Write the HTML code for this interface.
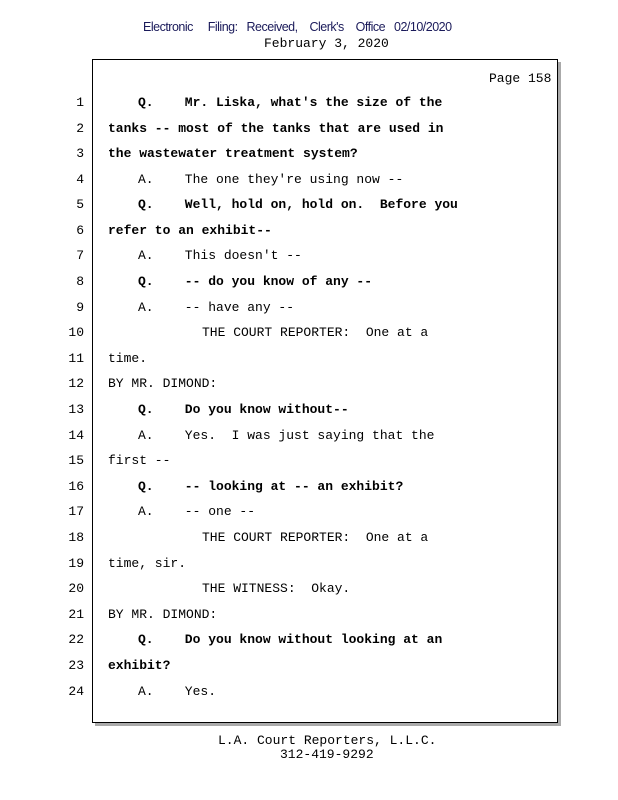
<!DOCTYPE html>
<html><head><meta charset="utf-8"><style>
body{margin:0;width:618px;height:800px;background:#fff;position:relative;overflow:hidden;font-family:"Liberation Mono",monospace;font-size:13px;color:#000}
.a{position:absolute;white-space:pre;line-height:15px}
.n{position:absolute;width:30px;left:54px;text-align:right;white-space:pre;line-height:15px}
.b{font-weight:bold}
#box{position:absolute;left:92px;top:59px;width:464px;height:662px;border:1px solid #000;box-shadow:3px 3px 0 #aaa;background:#fff}
.hd{position:absolute;top:20px;left:143px;font-family:"Liberation Sans",sans-serif;font-size:12.5px;color:#1a1a5a;white-space:pre;letter-spacing:-0.5px}
</style></head><body>
<div class="hd">Electronic     Filing:   Received,    Clerk's    Office   02/10/2020</div>
<div class="a" style="top:36px;left:264px">February 3, 2020</div>
<div id="box"></div>
<div class="a" style="top:71px;left:489px">Page 158</div>
<div class="n" style="top:95px">1</div><div class="a b" style="top:95px;left:138px">Q.    Mr. Liska, what's the size of the</div>
<div class="n" style="top:121px">2</div><div class="a b" style="top:121px;left:108px">tanks -- most of the tanks that are used in</div>
<div class="n" style="top:146px">3</div><div class="a b" style="top:146px;left:108px">the wastewater treatment system?</div>
<div class="n" style="top:172px">4</div><div class="a" style="top:172px;left:138px">A.    The one they're using now --</div>
<div class="n" style="top:197px">5</div><div class="a b" style="top:197px;left:138px">Q.    Well, hold on, hold on.  Before you</div>
<div class="n" style="top:223px">6</div><div class="a b" style="top:223px;left:108px">refer to an exhibit--</div>
<div class="n" style="top:248px">7</div><div class="a" style="top:248px;left:138px">A.    This doesn't --</div>
<div class="n" style="top:274px">8</div><div class="a b" style="top:274px;left:138px">Q.    -- do you know of any --</div>
<div class="n" style="top:300px">9</div><div class="a" style="top:300px;left:138px">A.    -- have any --</div>
<div class="n" style="top:325px">10</div><div class="a" style="top:325px;left:202px">THE COURT REPORTER:  One at a</div>
<div class="n" style="top:351px">11</div><div class="a" style="top:351px;left:108px">time.</div>
<div class="n" style="top:376px">12</div><div class="a" style="top:376px;left:108px">BY MR. DIMOND:</div>
<div class="n" style="top:402px">13</div><div class="a b" style="top:402px;left:138px">Q.    Do you know without--</div>
<div class="n" style="top:428px">14</div><div class="a" style="top:428px;left:138px">A.    Yes.  I was just saying that the</div>
<div class="n" style="top:453px">15</div><div class="a" style="top:453px;left:108px">first --</div>
<div class="n" style="top:479px">16</div><div class="a b" style="top:479px;left:138px">Q.    -- looking at -- an exhibit?</div>
<div class="n" style="top:504px">17</div><div class="a" style="top:504px;left:138px">A.    -- one --</div>
<div class="n" style="top:530px">18</div><div class="a" style="top:530px;left:202px">THE COURT REPORTER:  One at a</div>
<div class="n" style="top:556px">19</div><div class="a" style="top:556px;left:108px">time, sir.</div>
<div class="n" style="top:581px">20</div><div class="a" style="top:581px;left:202px">THE WITNESS:  Okay.</div>
<div class="n" style="top:607px">21</div><div class="a" style="top:607px;left:108px">BY MR. DIMOND:</div>
<div class="n" style="top:632px">22</div><div class="a b" style="top:632px;left:138px">Q.    Do you know without looking at an</div>
<div class="n" style="top:658px">23</div><div class="a b" style="top:658px;left:108px">exhibit?</div>
<div class="n" style="top:684px">24</div><div class="a" style="top:684px;left:138px">A.    Yes.</div>
<div class="a" style="top:733px;left:218px">L.A. Court Reporters, L.L.C.</div>
<div class="a" style="top:747px;left:280px">312-419-9292</div>
</body></html>
